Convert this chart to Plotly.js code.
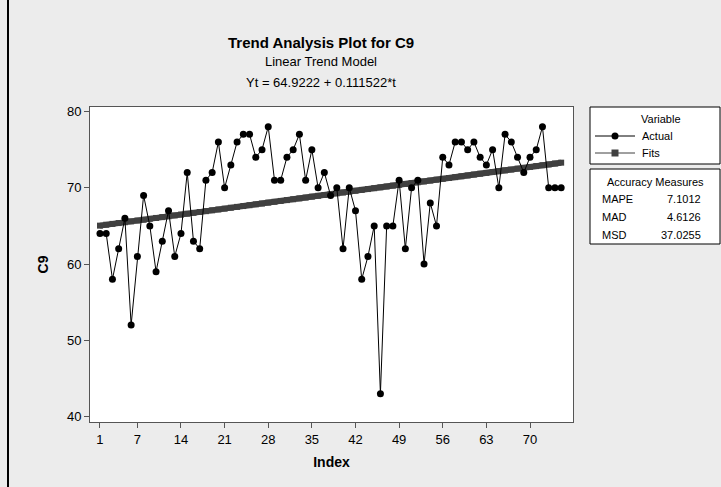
<!DOCTYPE html>
<html>
<head>
<meta charset="utf-8">
<script src="https://cdn.plot.ly/plotly-3.0.1.min.js"></script>
<style>html,body{margin:0;padding:0;background:#ececec;}#chart{width:721px;height:487px;}</style>
</head>
<body>
<div id="chart"></div>
<script>
// ---- data ----
const index = Array.from({length: 75}, (_, i) => i + 1);
const actual = [64,64,58,62,66,52,61,69,65,59,63,67,61,64,72,63,62,71,72,76,
                70,73,76,77,77,74,75,78,71,71,74,75,77,71,75,70,72,69,70,62,
                70,67,58,61,65,43,65,65,71,62,70,71,60,68,65,74,73,76,76,75,
                76,74,73,75,70,77,76,74,72,74,75,78,70,70,70];
const fits = [65.03,65.15,65.26,65.37,65.48,65.59,65.70,65.81,65.93,66.04,
              66.15,66.26,66.37,66.48,66.60,66.71,66.82,66.93,67.04,67.15,
              67.26,67.38,67.49,67.60,67.71,67.82,67.93,68.05,68.16,68.27,
              68.38,68.49,68.60,68.71,68.83,68.94,69.05,69.16,69.27,69.38,
              69.50,69.61,69.72,69.83,69.94,70.05,70.16,70.28,70.39,70.50,
              70.61,70.72,70.83,70.94,71.06,71.17,71.28,71.39,71.50,71.61,
              71.73,71.84,71.95,72.06,72.17,72.28,72.39,72.51,72.62,72.73,
              72.84,72.95,73.06,73.18,73.29];
const xTicks = [1,7,14,21,28,35,42,49,56,63,70];
const yTicks = [40,50,60,70,80];
const measureNames = ["MAPE","MAD","MSD"];
const measureValues = ["7.1012","4.6126","37.0255"];

// ---- geometry helpers (pixel -> paper) ----
const L = 90, T = 107, W = 483, H = 315;
const px = x => (x - L) / W;
const py = y => (T + H - y) / H;
const FONT = "Liberation Sans, Arial, sans-serif";

const traces = [
  {x: index, y: fits, type: 'scatter', mode: 'lines+markers', name: 'Fits',
   line: {color: '#404040', width: 6}, marker: {symbol: 'square', size: 6, color: '#404040'}},
  {x: index, y: actual, type: 'scatter', mode: 'lines+markers', name: 'Actual',
   line: {color: '#000000', width: 1}, marker: {symbol: 'circle', size: 7, color: '#000000'}}
];

const shapes = [
  {type: 'line', xref: 'paper', yref: 'paper', x0: px(8), x1: px(8), y0: py(0), y1: py(487),
   line: {color: '#000', width: 2}},
  {type: 'rect', xref: 'paper', yref: 'paper', x0: px(590), x1: px(720), y0: py(107), y1: py(164),
   fillcolor: '#fff', line: {color: '#000', width: 1}},
  {type: 'rect', xref: 'paper', yref: 'paper', x0: px(590), x1: px(720), y0: py(169), y1: py(244),
   fillcolor: '#fff', line: {color: '#000', width: 1}},
  {type: 'line', xref: 'paper', yref: 'paper', x0: px(595), x1: px(635), y0: py(136), y1: py(136),
   line: {color: '#000', width: 1}},
  {type: 'circle', xref: 'paper', yref: 'paper', x0: px(611.5), x1: px(618.5), y0: py(132.5), y1: py(139.5),
   fillcolor: '#000', line: {color: '#000', width: 0}},
  {type: 'line', xref: 'paper', yref: 'paper', x0: px(595), x1: px(635), y0: py(153), y1: py(153),
   line: {color: '#404040', width: 1}},
  {type: 'rect', xref: 'paper', yref: 'paper', x0: px(611.5), x1: px(618.5), y0: py(149.5), y1: py(156.5),
   fillcolor: '#404040', line: {color: '#404040', width: 0}}
];

function ann(text, x, y, size, xanchor) {
  return {text: text, x: px(x), y: py(y), xref: 'paper', yref: 'paper',
    xanchor: xanchor || 'center', yanchor: 'middle', showarrow: false,
    font: {family: FONT, size: size, color: '#000'}};
}
const annotations = [
  ann('<b>Trend Analysis Plot for C9</b>', 321, 42, 15),
  ann('Linear Trend Model', 321, 61, 13),
  ann('Yt = 64.9222 + 0.111522*t', 321, 82, 13),
  ann('Variable', 661, 119, 11),
  ann('Actual', 640, 136, 11, 'left'),
  ann('Fits', 640, 153, 11, 'left'),
  ann('Accuracy Measures', 655, 182, 11)
];
const rowY = [199, 217, 235];
measureNames.forEach((n, k) => {
  annotations.push(ann(n, 600, rowY[k], 11, 'left'));
  annotations.push(ann(measureValues[k], 703, rowY[k], 11, 'right'));
});

const layout = {
  width: 721, height: 487,
  margin: {l: L, r: 721 - L - W, t: T, b: 487 - T - H, pad: 0},
  paper_bgcolor: '#ececec', plot_bgcolor: '#ffffff',
  showlegend: false,
  font: {family: FONT, size: 13, color: '#000'},
  xaxis: {range: [-0.6, 76.9], tickvals: xTicks, ticktext: xTicks.map(String),
    showgrid: false, zeroline: false, showline: true, mirror: true, linecolor: '#555555', linewidth: 1,
    ticks: 'outside', ticklen: 5, tickcolor: '#555555',
    title: {text: '<b>Index</b>', font: {family: FONT, size: 14}, standoff: 11}},
  yaxis: {range: [39.28, 80.59], tickvals: yTicks,
    showgrid: false, zeroline: false, showline: true, mirror: true, linecolor: '#555555', linewidth: 1,
    ticks: 'outside', ticklen: 5, tickcolor: '#555555',
    title: {text: '<b>C9</b>', font: {family: FONT, size: 14}, standoff: 15}},
  shapes: shapes,
  annotations: annotations
};

Plotly.newPlot('chart', traces, layout, {displayModeBar: false, staticPlot: true});
</script>
</body>
</html>
